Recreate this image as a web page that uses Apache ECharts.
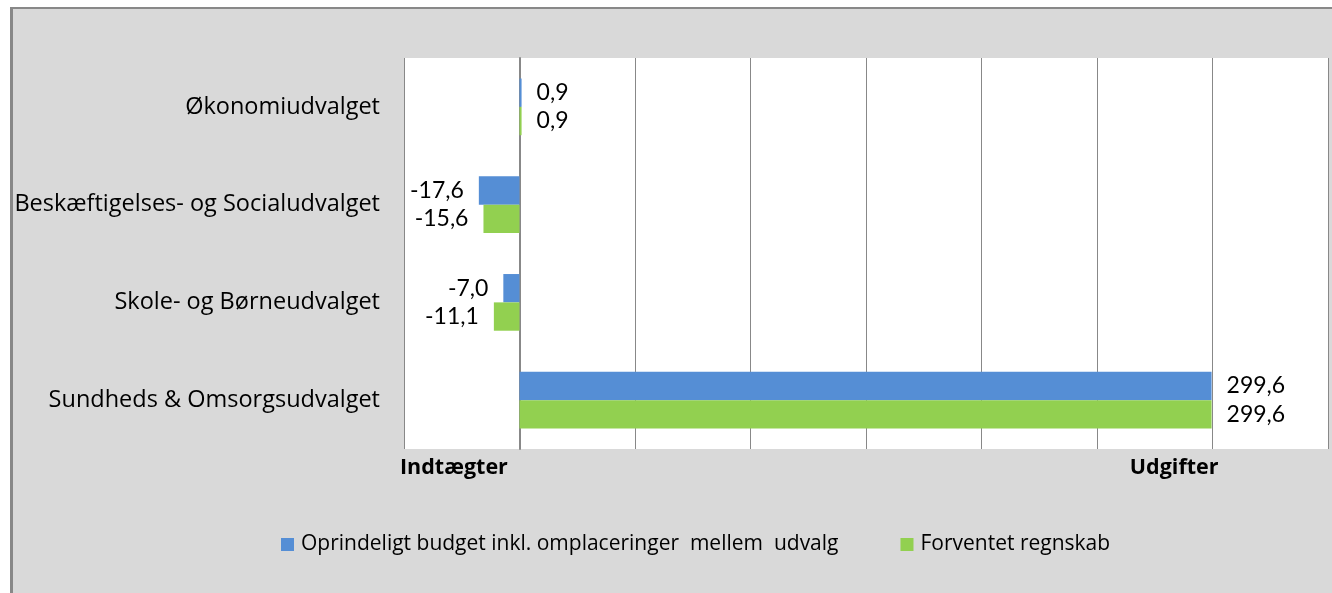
<!DOCTYPE html>
<html>
<head>
<meta charset="utf-8">
<script src="https://cdn.jsdelivr.net/npm/echarts@6/dist/echarts.min.js"></script>
<style>
  html, body { margin: 0; padding: 0; background: #fff; }
  #chart { width: 1332px; height: 593px; }
</style>
</head>
<body>
<div id="chart"></div>
<script>
// Udvalg (top to bottom as shown)
const categories = [
  'Økonomiudvalget',
  'Beskæftigelses- og Socialudvalget',
  'Skole- og Børneudvalget',
  'Sundheds & Omsorgsudvalget'
];
const budgetValues = [0.9, -17.6, -7.0, 299.6];
const regnskabValues = [0.9, -15.6, -11.1, 299.6];
const seriesNames = ['Oprindeligt budget inkl. omplaceringer  mellem  udvalg', 'Forventet regnskab'];
const axisEndLabels = { min: 'Indtægter', max: 'Udgifter' };

const FONT = 'Lato, "Open Sans", sans-serif';
const WIDE = '"Open Sans", Lato, sans-serif';

function fmt(v) {
  return v.toFixed(1).replace('.', ',');
}

function barData(values) {
  return values.map(v => ({
    value: v,
    label: { position: v < 0 ? 'left' : 'right' }
  }));
}

const labelStyle = { show: true, distance: 15, formatter: p => fmt(p.value), fontFamily: FONT, fontSize: 23, color: '#000' };

const chart = echarts.init(document.getElementById('chart'));

chart.setOption({
  backgroundColor: '#d9d9d9',
  color: ['#558ed5', '#92d050'],
  animation: false,
  grid: {
    left: 404, right: 4, top: 58, bottom: 144,
    show: true, backgroundColor: '#fff', borderWidth: 0
  },
  legend: {
    bottom: 33,
    left: 276,
    itemWidth: 13,
    itemHeight: 13,
    itemGap: 62,
    icon: 'rect',
    textStyle: { fontFamily: WIDE, fontSize: 21, color: '#000', padding: [0, 0, 0, 2] },
    data: seriesNames
  },
  xAxis: {
    type: 'value',
    min: -50,
    max: 350,
    interval: 50,
    axisLine: { show: false },
    axisTick: { show: false },
    axisLabel: { show: false },
    splitLine: { lineStyle: { color: '#888', width: 1 } }
  },
  yAxis: {
    type: 'category',
    inverse: true,
    data: categories,
    axisLine: { show: true, lineStyle: { color: '#888', width: 2 } },
    axisTick: { show: false },
    axisLabel: { fontFamily: WIDE, fontSize: 23.5, color: '#000', margin: 24, padding: [6, 0, 0, 0] }
  },
  series: [
    {
      name: seriesNames[0],
      type: 'bar',
      data: barData(budgetValues),
      barGap: '0%',
      barCategoryGap: '42%',
      label: labelStyle
    },
    {
      name: seriesNames[1],
      type: 'bar',
      data: barData(regnskabValues),
      barGap: '0%',
      barCategoryGap: '42%',
      label: labelStyle
    }
  ]
});

// frame and end labels of the value axis
const xMin = chart.convertToPixel({ xAxisIndex: 0 }, -50);
const x300 = chart.convertToPixel({ xAxisIndex: 0 }, 300);
chart.setOption({
  graphic: [
    { type: 'rect', shape: { x: 0, y: 0, width: 1332, height: 7 }, style: { fill: '#fff' }, silent: true },
    { type: 'rect', shape: { x: 0, y: 0, width: 10, height: 593 }, style: { fill: '#fff' }, silent: true },
    { type: 'rect', shape: { x: 10, y: 7, width: 1322, height: 2 }, style: { fill: '#888' }, silent: true },
    { type: 'rect', shape: { x: 10, y: 7, width: 3, height: 586 }, style: { fill: '#888' }, silent: true },
    {
      type: 'text', x: xMin - 4, y: 468,
      style: { text: axisEndLabels.min, fontFamily: WIDE, fontSize: 21.5, fontWeight: 'bold', fill: '#000', textAlign: 'left', textVerticalAlign: 'middle' }
    },
    {
      type: 'text', x: x300 + 6, y: 468,
      style: { text: axisEndLabels.max, fontFamily: WIDE, fontSize: 21.5, fontWeight: 'bold', fill: '#000', textAlign: 'right', textVerticalAlign: 'middle' }
    }
  ]
});
</script>
</body>
</html>
